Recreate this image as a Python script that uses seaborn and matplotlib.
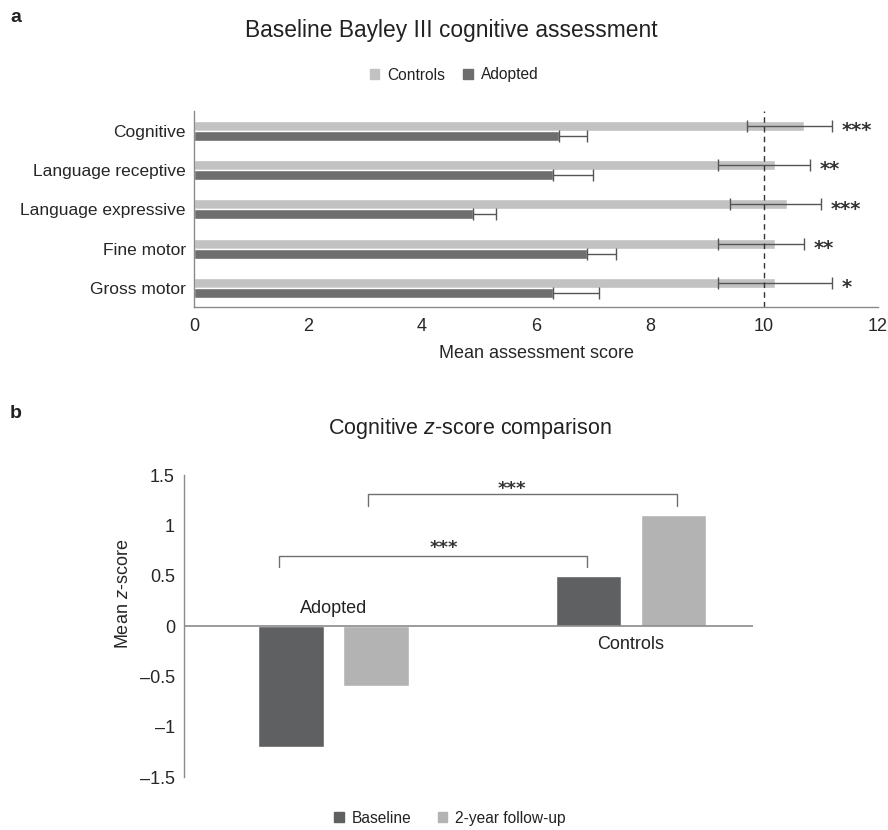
import pandas as pd
import numpy as np
import matplotlib
matplotlib.use("Agg")
import matplotlib.pyplot as plt
from matplotlib.patches import Patch
import seaborn as sns

# -------------------------
# Data
# -------------------------

domains = ["Cognitive", "Language receptive", "Language expressive",
           "Fine motor", "Gross motor"]
groups_a = ["Controls", "Adopted"]
controls_score = [10.7, 10.2, 10.4, 10.2, 10.2]
controls_err_lo = [1.0, 1.0, 1.0, 1.0, 1.0]
controls_err_hi = [0.5, 0.6, 0.6, 0.5, 1.0]
adopted_score = [6.4, 6.3, 4.9, 6.9, 6.3]
adopted_err = [0.5, 0.7, 0.4, 0.5, 0.8]
stars_a = ["***", "**", "***", "**", "*"]
ref_score = 10

groups_b = ["Adopted", "Controls"]
times_b = ["Baseline", "2-year follow-up"]
zscore_baseline = [-1.2, 0.5]
zscore_followup = [-0.6, 1.1]
yticks_b = [1.5, 1, 0.5, 0, -0.5, -1, -1.5]
ytick_labels_b = ["1.5", "1", "0.5", "0", "\u20130.5", "\u20131", "\u20131.5"]

col_controls = "#c2c2c2"
col_adopted = "#6e6e6e"
col_base = "#5f6062"
col_follow = "#b3b3b3"
spine_col = "#8a8a8a"
text_col = "#222222"
star_font = ["DejaVu Sans"]

sns.set_style("white")
plt.rcParams["font.family"] = ["Liberation Sans", "DejaVu Sans"]
plt.rcParams["mathtext.fontset"] = "custom"
plt.rcParams["mathtext.rm"] = "Liberation Sans"
plt.rcParams["mathtext.it"] = "Liberation Sans:italic"
plt.rcParams["text.color"] = text_col

fig = plt.figure(figsize=(8.88, 8.30), dpi=100)

# -------------------------
# Panel a
# -------------------------

df_a = pd.DataFrame({
    "domain": domains * 2,
    "group": ["Controls"] * 5 + ["Adopted"] * 5,
    "score": controls_score + adopted_score,
})

ax1 = fig.add_axes([194 / 888, 1 - 307 / 830, (878 - 194) / 888, 196 / 830])
sns.barplot(data=df_a, y="domain", x="score", hue="group", hue_order=groups_a,
            palette=[col_controls, col_adopted], width=0.51, errorbar=None,
            orient="h", legend=False, ax=ax1)

ctrl_bars = ax1.containers[0]
adop_bars = ax1.containers[1]
ctrl_y = [p.get_y() + p.get_height() / 2 for p in ctrl_bars]
adop_y = [p.get_y() + p.get_height() / 2 for p in adop_bars]

ax1.errorbar(controls_score, ctrl_y, xerr=[controls_err_lo, controls_err_hi],
             fmt="none", ecolor="#555555", elinewidth=1, capsize=4.5, capthick=1)
ax1.errorbar(adopted_score, adop_y, xerr=[[0] * 5, adopted_err],
             fmt="none", ecolor="#555555", elinewidth=1, capsize=4.5, capthick=1)

for x, e, y, s in zip(controls_score, controls_err_hi, ctrl_y, stars_a):
    ax1.text(x + e + 0.17, y + 0.12, s, ha="left", va="center",
             fontsize=14, fontweight="bold", color="#333333", family=star_font)

ax1.axvline(ref_score, color="#333333", lw=1, ls=(0, (4, 3)))

ax1.set_xlim(0, 12)
ax1.set_ylim(4.49, -0.51)
ax1.set_xticks(range(0, 13, 2))
ax1.set_xlabel("Mean assessment score", fontsize=13, labelpad=7)
ax1.set_ylabel("")
ax1.tick_params(axis="x", length=0, labelsize=13, pad=8)
ax1.tick_params(axis="y", length=0, labelsize=12.5, pad=6)
for side in ["top", "right"]:
    ax1.spines[side].set_visible(False)
for side in ["left", "bottom"]:
    ax1.spines[side].set_color(spine_col)
    ax1.spines[side].set_linewidth(1)

fig.text(451 / 888, 1 - 31 / 830, "Baseline Bayley III cognitive assessment",
         ha="center", va="center", fontsize=16.4)
fig.legend(handles=[Patch(color=col_controls, label="Controls"),
                    Patch(color=col_adopted, label="Adopted")],
           loc="center", bbox_to_anchor=(454 / 888, 1 - 75 / 830), ncol=2,
           frameon=False, fontsize=11.2, handlelength=0.6, handleheight=0.6,
           handletextpad=0.5, columnspacing=1.2)
fig.text(10 / 888, 1 - 18 / 830, "a", fontsize=14, fontweight="bold",
         ha="left", va="center")

# -------------------------
# Panel b
# -------------------------

df_b = pd.DataFrame({
    "group": groups_b * 2,
    "time": ["Baseline"] * 2 + ["2-year follow-up"] * 2,
    "z": zscore_baseline + zscore_followup,
})

ax2 = fig.add_axes([184 / 888, 1 - 777 / 830, (753 - 184) / 888, 302 / 830])
sns.barplot(data=df_b, x="group", y="z", hue="time", hue_order=times_b,
            order=groups_b, palette=[col_base, col_follow], width=0.573,
            gap=0.23, errorbar=None, legend=False, ax=ax2)

ax2.axhline(0, color=spine_col, lw=1.2)
ax2.set_xlim(-0.503, 1.41)
ax2.set_ylim(-1.5, 1.5)
ax2.set_yticks(yticks_b)
ax2.set_yticklabels(ytick_labels_b)
ax2.set_xticks([])
ax2.set_xlabel("")
ax2.set_ylabel("Mean $z$-score", fontsize=13)
ax2.yaxis.set_label_coords(-0.092, 0.606)
ax2.tick_params(axis="y", length=0, labelsize=13, pad=6.5)
for side in ["top", "right", "bottom"]:
    ax2.spines[side].set_visible(False)
ax2.spines["left"].set_color(spine_col)
ax2.spines["left"].set_linewidth(1)

ax2.text(0, 0.17, "Adopted", ha="center", va="center", fontsize=13)
ax2.text(1, -0.18, "Controls", ha="center", va="center", fontsize=13)

# significance brackets: (x left, x right, y top, y foot, star x, star y)
brackets = [(-0.183, 0.853, 0.70, 0.59, 0.37, 0.84),
            (0.115, 1.153, 1.31, 1.19, 0.60, 1.43)]
for x0, x1, yt, yf, sx, sy in brackets:
    ax2.plot([x0, x0, x1, x1], [yf, yt, yt, yf], color="#707070", lw=1)
    ax2.text(sx, sy - 0.07, "***", ha="center", va="center", fontsize=13,
             fontweight="bold", color="#333333", family=star_font)

fig.text(470 / 888, 1 - 428 / 830, "Cognitive $z$-score comparison",
         ha="center", va="center", fontsize=15.5)
fig.legend(handles=[Patch(color=col_base, label="Baseline"),
                    Patch(color=col_follow, label="2-year follow-up")],
           loc="center", bbox_to_anchor=(450 / 888, 1 - 818 / 830), ncol=2,
           frameon=False, fontsize=11.2, handlelength=0.6, handleheight=0.6,
           handletextpad=0.5, columnspacing=1.7)
fig.text(10 / 888, 1 - 413 / 830, "b", fontsize=14, fontweight="bold",
         ha="left", va="center")

fig.savefig("out.png", dpi=100)
